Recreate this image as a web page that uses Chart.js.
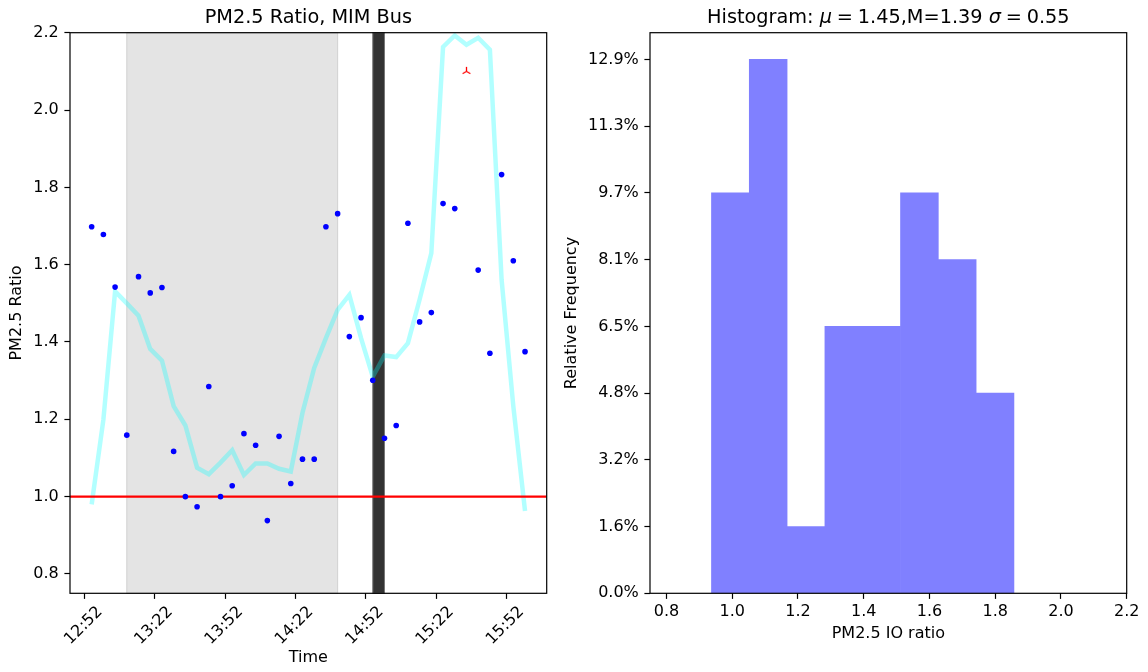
<!DOCTYPE html>
<html>
<head>
<meta charset="utf-8">
<script src="https://cdn.jsdelivr.net/npm/chart.js@4.4.1/dist/chart.umd.min.js"></script>
<style>
  html, body { margin: 0; padding: 0; background: #fff; }
  #wrap { position: relative; width: 1148px; height: 672px; overflow: hidden; }
  canvas { position: absolute; top: 0; }
  #ratioChart { left: 0; }
  #histChart { left: 560px; }
</style>
</head>
<body>
<div id="wrap">
  <canvas id="ratioChart" width="560" height="672"></canvas>
  <canvas id="histChart" width="588" height="672"></canvas>
</div>
<script>
// ---- data ----
const times = ["12:55","13:00","13:05","13:10","13:15","13:20","13:25","13:30","13:35","13:40",
               "13:45","13:50","13:55","14:00","14:05","14:10","14:15","14:20","14:25","14:30",
               "14:35","14:40","14:45","14:50","14:55","15:00","15:05","15:10","15:15","15:20",
               "15:25","15:30","15:35","15:40","15:45","15:50","15:55","16:00"];

// PM2.5 indoor/outdoor ratio per sample (null = no valid reading)
const ratio = [1.698,1.678,1.542,1.159,1.569,1.527,1.541,1.117,1.000,0.974,
               1.285,1.000,1.028,1.163,1.133,0.938,1.156,1.034,1.097,1.097,
               1.698,1.732,1.414,1.463,1.301,1.151,1.184,1.707,1.452,1.476,
               1.758,1.745,null,1.586,1.371,1.833,1.610,1.375];

// rolling-mean trend of the ratio
const trend = [0.980,1.199,1.531,1.500,1.468,1.382,1.352,1.234,1.184,1.075,
               1.058,1.088,1.120,1.056,1.086,1.086,1.072,1.065,1.217,1.333,
               1.410,1.483,1.522,1.410,1.310,1.365,1.361,1.397,1.510,1.630,
               2.163,2.193,2.169,2.187,2.156,1.561,1.234,0.963];

// flagged reading
const flaggedTimes = ["15:35"];
const flaggedValues = [2.10];

const refLevel = 1.0;
const shadedWindow = ["13:10", "14:40"];
const busWindow = ["14:55", "15:00"];

const timeTicks = ["12:52","13:22","13:52","14:22","14:52","15:22","15:52"];
const ratioTicks = [0.8, 1.0, 1.2, 1.4, 1.6, 1.8, 2.0, 2.2];
const ratioLimits = [0.75, 2.2];

// histogram
const histEdges = [0.937, 1.052, 1.167, 1.282, 1.397, 1.512, 1.627, 1.742, 1.857];
const histTotal = 62;
const ioTicks = [0.8, 1.0, 1.2, 1.4, 1.6, 1.8, 2.0, 2.2];
const ioLimits = [0.75, 2.2];

// ---- helpers ----
const FONT = "'DejaVu Sans', 'Liberation Sans', sans-serif";
const toMin = s => { const [h, m] = s.split(":").map(Number); return h * 60 + m; };
const fmtMin = v => { const h = Math.floor(v / 60), m = Math.round(v - h * 60); return h + ":" + String(m).padStart(2, "0"); };

const tMin = times.map(toMin);
const span = tMin[tMin.length - 1] - tMin[0];
const xLimits = [tMin[0] - 0.05 * span, tMin[tMin.length - 1] + 0.05 * span];

function triUp(size, color, lw) {
  const c = document.createElement("canvas");
  c.width = c.height = size;
  const g = c.getContext("2d");
  const cx = size / 2, cy = size / 2, r = size / 2 - 1;
  g.strokeStyle = color; g.lineWidth = lw; g.lineCap = "butt";
  g.beginPath();
  g.moveTo(cx, cy); g.lineTo(cx, cy - r);
  g.moveTo(cx, cy); g.lineTo(cx - r * 0.866, cy + r * 0.5);
  g.moveTo(cx, cy); g.lineTo(cx + r * 0.866, cy + r * 0.5);
  g.stroke();
  return c;
}

const frame = {
  id: "frame",
  afterDatasetsDraw(chart) {
    const { ctx, chartArea: a } = chart;
    ctx.save();
    ctx.strokeStyle = "#000";
    ctx.lineWidth = 1.2;
    ctx.strokeRect(a.left, a.top, a.right - a.left, a.bottom - a.top);
    ctx.restore();
  }
};

function titlePlugin(parts) {
  return {
    id: "titleText",
    afterDraw(chart) {
      const { ctx, chartArea: a } = chart;
      ctx.save();
      ctx.fillStyle = "#000";
      ctx.textBaseline = "alphabetic";
      const size = 19.3;
      let total = 0;
      parts.forEach(p => { ctx.font = (p.italic ? "italic " : "") + size + "px " + FONT; p.w = ctx.measureText(p.text).width; total += p.w; });
      let x = (a.left + a.right) / 2 - total / 2;
      parts.forEach(p => {
        ctx.font = (p.italic ? "italic " : "") + size + "px " + FONT;
        ctx.textAlign = "left";
        ctx.fillText(p.text, x, 23);
        x += p.w;
      });
      ctx.restore();
    }
  };
}

const spans = {
  id: "spans",
  beforeDatasetsDraw(chart) {
    const { ctx, chartArea: a, scales: { x } } = chart;
    ctx.save();
    const g0 = x.getPixelForValue(toMin(shadedWindow[0])), g1 = x.getPixelForValue(toMin(shadedWindow[1]));
    ctx.fillStyle = "#e4e4e4";
    ctx.fillRect(g0, a.top, g1 - g0, a.bottom - a.top);
    ctx.strokeStyle = "#d2d2d2"; ctx.lineWidth = 1;
    ctx.strokeRect(g0, a.top, g1 - g0, a.bottom - a.top);
    const b0 = x.getPixelForValue(toMin(busWindow[0])), b1 = x.getPixelForValue(toMin(busWindow[1]));
    ctx.fillStyle = "#333333";
    ctx.fillRect(b0, a.top, b1 - b0, a.bottom - a.top);
    ctx.strokeStyle = "#777777";
    ctx.strokeRect(b0, a.top, b1 - b0, a.bottom - a.top);
    ctx.restore();
  }
};

const tickFont = { family: FONT, size: 16 };
const axisCommon = {
  border: { display: false },
  grid: { display: true, drawOnChartArea: false, drawTicks: true, tickLength: 5.6, color: "#000", tickWidth: 1.2 },
};

Chart.defaults.color = "#000";
Chart.defaults.font.family = FONT;

// ---- left: ratio over time ----
new Chart(document.getElementById("ratioChart"), {
  type: "scatter",
  data: {
    datasets: [
      {
        label: "ratio",
        data: tMin.map((t, i) => ({ x: t, y: ratio[i] })),
        backgroundColor: "#0000ff", borderWidth: 0, pointRadius: 2.8, order: 0
      },
      {
        label: "flagged",
        data: flaggedTimes.map((t, i) => ({ x: toMin(t), y: flaggedValues[i] })),
        pointStyle: triUp(11, "#ff0000", 1.3), pointRadius: 5, order: 0
      },
      {
        label: "reference",
        data: [{ x: xLimits[0], y: refLevel }, { x: xLimits[1], y: refLevel }],
        showLine: true, borderColor: "#ff0000", borderWidth: 2.4, pointRadius: 0, order: 1
      },
      {
        label: "trend",
        data: tMin.map((t, i) => ({ x: t, y: trend[i] })),
        showLine: true, borderColor: "rgba(0,255,255,0.3)", borderWidth: 4.5, pointRadius: 0,
        borderJoinStyle: "miter", order: 2
      }
    ]
  },
  options: {
    responsive: false, animation: false, events: [],
    layout: { padding: { left: 0, right: 13.3, top: 32.7, bottom: 0 } },
    plugins: { legend: { display: false }, tooltip: { enabled: false } },
    scales: {
      x: {
        ...axisCommon, type: "linear", min: xLimits[0], max: xLimits[1],
        afterBuildTicks: s => { s.ticks = timeTicks.map(t => ({ value: toMin(t) })); },
        afterFit: s => { s.height = 78.7; },
        ticks: { font: tickFont, color: "#000", autoSkip: false, minRotation: 45, maxRotation: 45,
                 padding: 3.7, labelOffset: 15.3, callback: v => fmtMin(v) },
        title: { display: true, text: "Time", font: tickFont, color: "#000", padding: { top: 0, bottom: 4.4 } }
      },
      y: {
        ...axisCommon, type: "linear", min: ratioLimits[0], max: ratioLimits[1],
        afterBuildTicks: s => { s.ticks = ratioTicks.map(v => ({ value: v })); },
        afterFit: s => { s.width = 70; },
        ticks: { font: tickFont, color: "#000", padding: 5.6, callback: v => v.toFixed(1) },
        title: { display: true, text: "PM2.5 Ratio", font: tickFont, color: "#000", padding: { top: 7.4, bottom: 0 } }
      }
    }
  },
  plugins: [spans, frame, titlePlugin([{ text: "PM2.5 Ratio, MIM Bus" }])]
});

// ---- right: histogram of the ratio ----
const counts = histEdges.slice(0, -1).map((lo, i) => {
  const hi = histEdges[i + 1];
  return ratio.filter(v => v !== null && v >= lo && (i === histEdges.length - 2 ? v <= hi : v < hi)).length;
});
const histData = counts.map((c, i) => ({ x: (histEdges[i] + histEdges[i + 1]) / 2, y: c / histTotal }));
const freqTicks = Array.from({ length: Math.max(...counts) + 1 }, (_, k) => k / histTotal);

new Chart(document.getElementById("histChart"), {
  type: "bar",
  data: {
    datasets: [{
      label: "frequency",
      data: histData,
      backgroundColor: "#8080ff", borderWidth: 0,
      barPercentage: 1, categoryPercentage: 1, grouped: false
    }]
  },
  options: {
    responsive: false, animation: false, events: [],
    layout: { padding: { left: 0, right: 21.3, top: 32.7, bottom: 0 } },
    plugins: { legend: { display: false }, tooltip: { enabled: false } },
    scales: {
      x: {
        ...axisCommon, type: "linear", offset: false, min: ioLimits[0], max: ioLimits[1],
        grid: { ...axisCommon.grid, offset: false },
        afterBuildTicks: s => { s.ticks = ioTicks.map(v => ({ value: v })); },
        afterFit: s => { s.height = 78.7; },
        ticks: { font: tickFont, color: "#000", autoSkip: false, maxRotation: 0, padding: 3, callback: v => v.toFixed(1) },
        title: { display: true, text: "PM2.5 IO ratio", font: tickFont, color: "#000", padding: { top: 0, bottom: 28.4 } }
      },
      y: {
        ...axisCommon, type: "linear", min: 0, max: (Math.max(...counts) * 1.05) / histTotal,
        afterBuildTicks: s => { s.ticks = freqTicks.map(v => ({ value: v })); },
        afterFit: s => { s.width = 90; },
        ticks: { font: tickFont, color: "#000", padding: 5.6, callback: v => (v * 100).toFixed(1) + "%" },
        title: { display: true, text: "Relative Frequency", font: tickFont, color: "#000", padding: { top: 2.4, bottom: 0 } }
      }
    }
  },
  plugins: [frame, titlePlugin([
    { text: "Histogram: " }, { text: "\u03bc", italic: true }, { text: "\u2005=\u20051.45" },
    { text: ",M=1.39 " }, { text: "\u03c3", italic: true }, { text: "\u2005=\u20050.55" }
  ])]
});
</script>
</body>
</html>
